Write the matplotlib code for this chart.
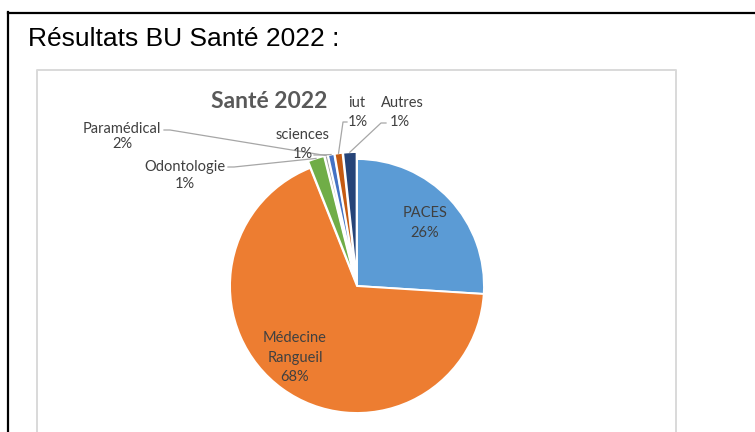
import numpy as np
import matplotlib.pyplot as plt

# data (clockwise from 12 o'clock)
categories = ['PACES', 'Médecine\nRangueil', 'Odontologie', 'Paramédical', 'sciences', 'iut', 'Autres']
values = [26.0, 68.0, 2.1, 0.4, 0.8, 1.0, 1.7]
pct_labels = ['26%', '68%', '1%', '2%', '1%', '1%', '1%']
colors = ['#5B9BD5', '#ED7D31', '#70AD47', '#A5A5A5', '#4472C4', '#C55A11', '#264478']
explode = [0, 0, 7, 7, 7, 7, 7]

W, H = 755, 432
def Y(y):
    return H - y

fig = plt.figure(figsize=(W / 100, H / 100), dpi=100)
ax = fig.add_axes([0, 0, 1, 1])

cx, cy, r = 357, Y(286), 127
wedges, _ = ax.pie(values, colors=colors, explode=explode, startangle=90,
                   counterclock=False, radius=r, center=(cx, cy),
                   wedgeprops=dict(edgecolor='white', linewidth=1.4))

ax.set_xlim(0, W)
ax.set_ylim(0, H)
ax.set_aspect('auto')
ax.axis('off')

# outer black frame (only top and left visible)
ax.plot([7.5, 7.5], [Y(12), -5], color='black', lw=1.6, clip_on=False)
ax.plot([7.5, W + 5], [Y(12.5), Y(12.5)], color='black', lw=1.6, clip_on=False)

# inner chart frame
ax.plot([36.5, 36.5, 675.5, 675.5], [-5, Y(69.5), Y(69.5), -5], color='#D9D9D9', lw=1.4, clip_on=False)

ax.text(28, Y(39), 'Résultats BU Santé 2022 :', family='Liberation Sans', fontsize=19,
        color='black', ha='left', va='center')
ax.text(269, Y(102), 'Santé 2022', family='Lato', fontweight='bold', fontsize=16.5,
        color='#595959', ha='center', va='center')

lab_font = dict(family='Lato', fontsize=10.5, color='#404040', ha='center', va='center')
grey = '#A6A6A6'

# inside labels
ax.text(425, Y(213), 'PACES', **lab_font)
ax.text(425, Y(233), pct_labels[0], **lab_font)
ax.text(295, Y(338), 'Médecine', **lab_font)
ax.text(295, Y(358), 'Rangueil', **lab_font)
ax.text(295, Y(377), pct_labels[1], **lab_font)

# outside labels: name pos, pct pos, leader start, elbow
outside = {
    2: ((185, 167), (185, 184), (228, 167), (234, 167)),
    3: ((122, 129), (122, 144), (164, 130), (170, 130)),
    4: ((303, 135), (303, 154), (314, 155), (319, 155)),
    5: ((357, 103), (358, 122), (347, 122), (343, 122)),
    6: ((402, 103), (400, 122), (386, 123), (381, 123)),
}
for i, (npos, ppos, start, elbow) in outside.items():
    ax.text(npos[0], Y(npos[1]), categories[i], **lab_font)
    ax.text(ppos[0], Y(ppos[1]), pct_labels[i], **lab_font)
    w = wedges[i]
    th = np.deg2rad((w.theta1 + w.theta2) / 2)
    ex, ey = w.center[0] + w.r * np.cos(th), w.center[1] + w.r * np.sin(th)
    ax.plot([start[0], elbow[0], ex], [Y(start[1]), Y(elbow[1]), ey], color=grey, lw=0.9)

fig.savefig('out.png', dpi=100)
